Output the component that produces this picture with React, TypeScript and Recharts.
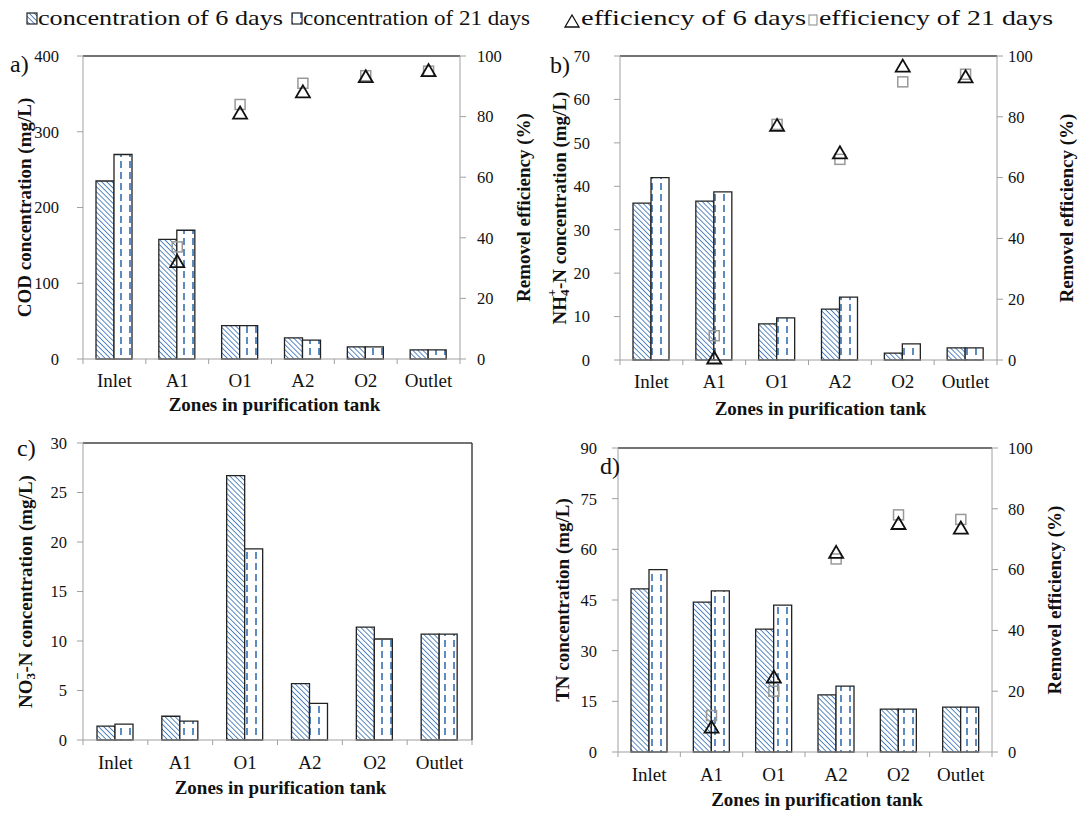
import React from 'react'
import { ComposedChart, Bar, Scatter, XAxis, YAxis, ReferenceLine, Label } from 'recharts'

const zones = ['Inlet', 'A1', 'O1', 'A2', 'O2', 'Outlet']

// a) COD
const codDay6 = [235, 158, 44, 28, 16, 12]
const codDay21 = [270, 170, 44, 25, 16, 12]
const codEff6 = [null, 32, 81, 88, 93, 95]
const codEff21 = [null, 37, 84, 91, 93.5, 95]
const codTicks = [0, 100, 200, 300, 400]

// b) NH4+-N
const nh4Day6 = [36.1, 36.6, 8.3, 11.7, 1.6, 2.8]
const nh4Day21 = [42, 38.7, 9.7, 14.5, 3.7, 2.8]
const nh4Eff6 = [null, 0.5, 77, 68, 96.5, 93]
const nh4Eff21 = [null, 8, 77.5, 66, 91.5, 94]
const nh4Ticks = [0, 10, 20, 30, 40, 50, 60, 70]

// c) NO3--N
const no3Day6 = [1.4, 2.4, 26.7, 5.7, 11.4, 10.7]
const no3Day21 = [1.6, 1.9, 19.3, 3.7, 10.2, 10.7]
const no3Ticks = [0, 5, 10, 15, 20, 25, 30]

// d) TN
const tnDay6 = [48.3, 44.4, 36.4, 16.9, 12.7, 13.3]
const tnDay21 = [54, 47.7, 43.5, 19.5, 12.7, 13.3]
const tnEff6 = [null, 8, 24.5, 65.5, 75, 73.5]
const tnEff21 = [null, 12, 20, 63.5, 78, 76.5]
const tnTicks = [0, 15, 30, 45, 60, 75, 90]

const effTicks = [0, 20, 40, 60, 80, 100]

const FONT = "'Liberation Serif', 'Times New Roman', serif"
const BLUE = '#4a7ebb'
const AXIS = '#a0a0a0'

const makeRows = (d6: number[], d21: number[], e6?: (number | null)[], e21?: (number | null)[]) =>
  zones.map((zone, i) => ({
    zone,
    d6: d6[i],
    d21: d21[i],
    e6: e6 ? e6[i] : null,
    e21: e21 ? e21[i] : null,
  }))

function Patterns() {
  return (
    <svg width={0} height={0} style={{ position: 'absolute' }}>
      <defs>
        <pattern id="hatch6" width={3.6} height={3.6} patternUnits="userSpaceOnUse" patternTransform="rotate(-45)">
          <rect width={3.6} height={3.6} fill="#fff" />
          <line x1={0} y1={0} x2={0} y2={3.6} stroke={BLUE} strokeWidth={1.8} />
        </pattern>
        <pattern id="dash21" width={9} height={11} patternUnits="userSpaceOnUse">
          <rect width={9} height={11} fill="#fff" />
          <line x1={4} y1={0} x2={4} y2={7} stroke={BLUE} strokeWidth={1.8} />
        </pattern>
      </defs>
    </svg>
  )
}

const badPoint = (p: any, key: string) =>
  p.cx == null || p.cy == null || Number.isNaN(p.cx) || Number.isNaN(p.cy) || p.payload?.[key] == null

const TriangleShape = (p: any) => {
  if (badPoint(p, 'e6')) return <g />
  const { cx, cy } = p
  return (
    <path
      d={`M${cx},${cy - 7} L${cx + 7},${cy + 5} L${cx - 7},${cy + 5} Z`}
      fill="none"
      stroke="#111"
      strokeWidth={1.8}
    />
  )
}

const SquareShape = (p: any) => {
  if (badPoint(p, 'e21')) return <g />
  const { cx, cy } = p
  return <rect x={cx - 5} y={cy - 5} width={10} height={10} fill="none" stroke="#999" strokeWidth={1.5} />
}

const ZoneTick = (p: any) => {
  const { x, y, payload, index, band, dy } = p
  return (
    <g>
      <line x1={x - band / 2} y1={y} x2={x - band / 2} y2={y + 5} stroke={AXIS} />
      {index === zones.length - 1 && <line x1={x + band / 2} y1={y} x2={x + band / 2} y2={y + 5} stroke={AXIS} />}
      <text x={x} y={y + dy} textAnchor="middle" fontSize={19} fontFamily={FONT} fill="#111">
        {payload.value}
      </text>
    </g>
  )
}

const titleStyle = { fontSize: 19, fontWeight: 'bold' as const, fontFamily: FONT, fill: '#111' }

const vTitle = (node: React.ReactNode, cx: number) => (props: any) => {
  const vb = props.viewBox || {}
  const cy = vb.y + vb.height / 2
  return (
    <text x={cx} y={cy} transform={`rotate(-90 ${cx} ${cy})`} textAnchor="middle" dominantBaseline="central" {...titleStyle}>
      {node}
    </text>
  )
}

const hTitle = (dx: number, dy: number) => (props: any) => {
  const vb = props.viewBox || {}
  return (
    <text x={vb.x + vb.width / 2 + dx} y={vb.y + dy} textAnchor="middle" {...titleStyle}>
      Zones in purification tank
    </text>
  )
}

interface PanelProps {
  rows: any[]
  left: number
  top: number
  width: number
  height: number
  marginTop: number
  lw: number
  rw: number
  xh: number
  leftMax: number
  leftTicks: number[]
  leftTitle: React.ReactNode
  leftTitleX: number
  leftTickMargin: number
  eff: boolean
  rightTitleX?: number
  rightTickMargin?: number
  frameRight?: boolean
  tickDy: number
  titleDx: number
  titleDy: number
}

function Panel(props: PanelProps) {
  const { rows, left, top, width, height, marginTop, lw, rw, xh, leftMax, leftTicks, eff } = props
  const band = (width - lw - rw) / zones.length
  const tickFont = { fontSize: 16.5, fill: '#111', fontFamily: FONT }
  return (
    <div style={{ position: 'absolute', left, top }}>
      <ComposedChart
        width={width}
        height={height}
        data={rows}
        barGap={0}
        margin={{ top: marginTop, right: 0, bottom: 0, left: 0 }}
      >
        <XAxis
          dataKey="zone"
          height={xh}
          axisLine={{ stroke: AXIS }}
          tickLine={false}
          tickSize={0}
          tickMargin={0}
          interval={0}
          tick={<ZoneTick band={band} dy={props.tickDy} />}
        >
          <Label content={hTitle(props.titleDx, props.titleDy)} />
        </XAxis>
        <YAxis
          yAxisId="left"
          width={lw}
          domain={[0, leftMax]}
          ticks={leftTicks}
          interval={0}
          axisLine={{ stroke: AXIS }}
          tickLine={{ stroke: AXIS }}
          tickSize={6}
          tickMargin={props.leftTickMargin}
          tick={tickFont}
        >
          <Label content={vTitle(props.leftTitle, props.leftTitleX)} />
        </YAxis>
        {eff ? (
          <YAxis
            yAxisId="right"
            orientation="right"
            width={rw}
            domain={[0, 100]}
            ticks={effTicks}
            interval={0}
            axisLine={{ stroke: AXIS }}
            tickLine={{ stroke: AXIS }}
            tickSize={6}
            tickMargin={props.rightTickMargin}
            tick={tickFont}
          >
            <Label content={vTitle('Removel efficiency (%)', props.rightTitleX || 0)} />
          </YAxis>
        ) : (
          <YAxis
            yAxisId="right"
            orientation="right"
            width={rw}
            domain={[0, 1]}
            tick={false}
            tickLine={false}
            axisLine={{ stroke: props.frameRight ? '#444' : 'none', strokeWidth: 1.5 }}
          />
        )}
        <ReferenceLine yAxisId="left" y={leftMax} stroke="#444" strokeWidth={1.5} />
        <Bar yAxisId="left" dataKey="d6" barSize={18} fill="url(#hatch6)" stroke="#222" strokeWidth={1.3} isAnimationActive={false} />
        <Bar yAxisId="left" dataKey="d21" barSize={18} fill="url(#dash21)" stroke="#222" strokeWidth={1.3} isAnimationActive={false} />
        {eff && <Scatter yAxisId="right" dataKey="e21" shape={SquareShape} isAnimationActive={false} />}
        {eff && <Scatter yAxisId="right" dataKey="e6" shape={TriangleShape} isAnimationActive={false} />}
      </ComposedChart>
    </div>
  )
}

const nh4Title = (
  <>
    NH<tspan dy={5} fontSize={13}>4</tspan>
    <tspan dx={-7} dy={-13} fontSize={13}>+</tspan>
    <tspan dy={8}>-N concentration (mg/L)</tspan>
  </>
)

const no3Title = (
  <>
    NO<tspan dy={5} fontSize={13}>3</tspan>
    <tspan dx={-7} dy={-13} fontSize={13}>−</tspan>
    <tspan dy={8}>-N concentration (mg/L)</tspan>
  </>
)

function Legend() {
  const t = { fontSize: 22, fontFamily: FONT, fill: '#111', lengthAdjust: 'spacingAndGlyphs' as const }
  return (
    <svg width={1078} height={40} style={{ position: 'absolute', left: 0, top: 0 }}>
      <rect x={27} y={13} width={10} height={11} fill="url(#hatch6)" stroke="#222" strokeWidth={1.2} />
      <text x={38} y={25} textLength={245} {...t}>concentration of 6 days</text>
      <rect x={292} y={13} width={10} height={11} fill="url(#dash21)" stroke="#222" strokeWidth={1.2} />
      <text x={303} y={25} textLength={227} {...t}>concentration of 21 days</text>
      <path d="M572,15 L579,27 L565,27 Z" fill="none" stroke="#111" strokeWidth={1.3} />
      <text x={581} y={25} textLength={225} {...t}>efficiency of 6 days</text>
      <rect x={809} y={15} width={8} height={10} fill="none" stroke="#999" strokeWidth={1.2} />
      <text x={819} y={25} textLength={234} {...t}>efficiency of 21 days</text>
    </svg>
  )
}

function PanelLetters() {
  const s = { fontSize: 24, fontFamily: FONT, fill: '#111' }
  return (
    <svg width={1078} height={814} style={{ position: 'absolute', left: 0, top: 0, pointerEvents: 'none' }}>
      <text x={10} y={72} {...s}>a)</text>
      <text x={550} y={73} {...s}>b)</text>
      <text x={17} y={456} {...s}>c)</text>
      <text x={600} y={474} {...s}>d)</text>
    </svg>
  )
}

export default function App() {
  return (
    <div style={{ position: 'absolute', left: 0, top: 0, width: 1078, height: 814, background: '#fff', overflow: 'hidden' }}>
      <Patterns />
      <Legend />
      <Panel
        rows={makeRows(codDay6, codDay21, codEff6, codEff21)}
        left={0}
        top={40}
        width={540}
        height={379}
        marginTop={16}
        lw={83}
        rw={80}
        xh={60}
        leftMax={400}
        leftTicks={codTicks}
        leftTitle="COD concentration (mg/L)"
        leftTitleX={24}
        leftTickMargin={18}
        eff
        rightTitleX={523}
        rightTickMargin={11}
        tickDy={28}
        titleDx={3}
        titleDy={52}
      />
      <Panel
        rows={makeRows(nh4Day6, nh4Day21, nh4Eff6, nh4Eff21)}
        left={540}
        top={40}
        width={538}
        height={380}
        marginTop={16}
        lw={80}
        rw={81}
        xh={60}
        leftMax={70}
        leftTicks={nh4Ticks}
        leftTitle={nh4Title}
        leftTitleX={19}
        leftTickMargin={24}
        eff
        rightTitleX={526}
        rightTickMargin={5}
        tickDy={28}
        titleDx={12}
        titleDy={55}
      />
      <Panel
        rows={makeRows(no3Day6, no3Day21)}
        left={0}
        top={420}
        width={540}
        height={380}
        marginTop={23}
        lw={83}
        rw={68}
        xh={60}
        leftMax={30}
        leftTicks={no3Ticks}
        leftTitle={no3Title}
        leftTitleX={25}
        leftTickMargin={10}
        eff={false}
        frameRight
        tickDy={29}
        titleDx={3}
        titleDy={54}
      />
      <Panel
        rows={makeRows(tnDay6, tnDay21, tnEff6, tnEff21)}
        left={540}
        top={420}
        width={538}
        height={390}
        marginTop={28}
        lw={78}
        rw={86}
        xh={58}
        leftMax={90}
        leftTicks={tnTicks}
        leftTitle="TN concentration (mg/L)"
        leftTitleX={22}
        leftTickMargin={15}
        eff
        rightTitleX={514}
        rightTickMargin={10}
        tickDy={29}
        titleDx={12}
        titleDy={54}
      />
      <PanelLetters />
    </div>
  )
}
